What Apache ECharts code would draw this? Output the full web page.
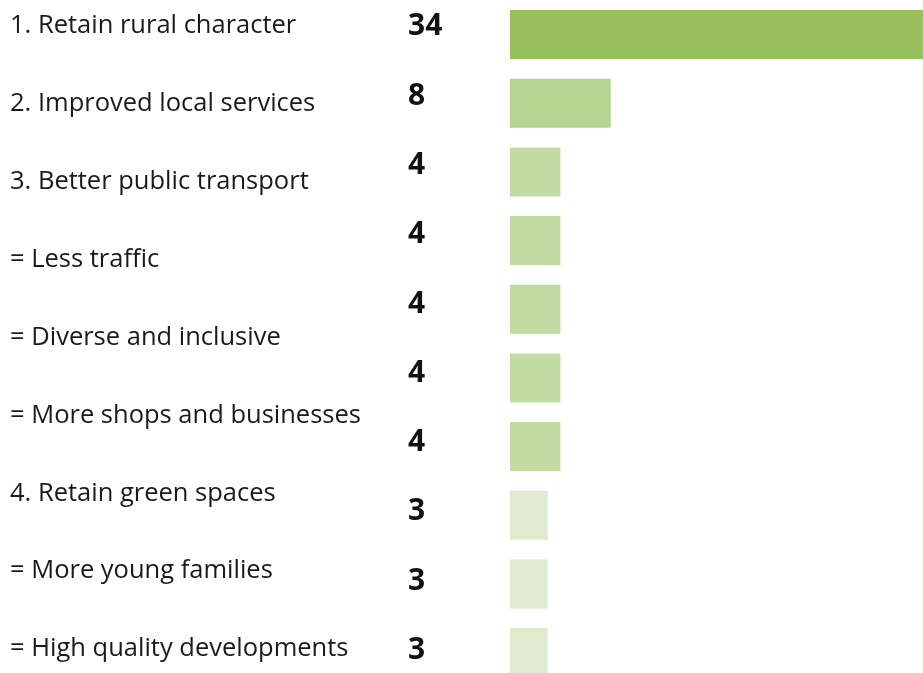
<!DOCTYPE html>
<html><head><meta charset="utf-8">
<script src="https://cdn.jsdelivr.net/npm/echarts@6/dist/echarts.min.js"></script>
<style>html,body{margin:0;padding:0;background:#fff}#c{width:923px;height:673px}</style>
</head><body><div id="c"></div>
<script>
// Text labels (9) as shown on the left
const itemLabels = [
  "1. Retain rural character",
  "2. Improved local services",
  "3. Better public transport",
  "= Less traffic",
  "= Diverse and inclusive",
  "= More shops and businesses",
  "4. Retain green spaces",
  "= More young families",
  "= High quality developments"
];
// Values (10 bars)
const values = [34, 8, 4, 4, 4, 4, 4, 3, 3, 3];
const barCategories = ["b1","b2","b3","b4","b5","b6","b7","b8","b9","b10"];
// Bar colours (style)
const barColors = ["#97c05c","#b4d48f","#c2dba0","#c2dba0","#c2dba0","#c2dba0","#c2dba0","#deebcf","#deebcf","#deebcf"];

const chart = echarts.init(document.getElementById('c'), null, {renderer:'canvas'});
const hidden = {show:false};
chart.setOption({
  animation:false,
  backgroundColor:'#ffffff',
  grid:[
    {left:510, width:428, top:0.2, height:686.7, outerBoundsMode:'none', containLabel:false},
    {left:0, width:400, top:-7.8, height:693, outerBoundsMode:'none', containLabel:false},
    {left:0, width:2, top:-13, height:701, outerBoundsMode:'none', containLabel:false}
  ],
  xAxis:[
    {gridIndex:0, type:'value', min:0, max:34, show:false},
    {gridIndex:1, type:'value', show:false},
    {gridIndex:2, type:'value', show:false}
  ],
  yAxis:[
    {gridIndex:0, type:'category', inverse:true, data:barCategories, show:false},
    {gridIndex:1, type:'category', inverse:true, data:barCategories, position:'right',
      axisLine:hidden, axisTick:hidden, splitLine:hidden,
      axisLabel:{show:true, margin:8, align:'left', interval:0,
        formatter:(v,i)=>String(values[i]),
        fontFamily:'Open Sans', fontWeight:'bold', fontSize:30, color:'#111111'}},
    {gridIndex:2, type:'category', inverse:true, data:itemLabels, position:'right',
      axisLine:hidden, axisTick:hidden, splitLine:hidden,
      axisLabel:{show:true, margin:8, align:'left', interval:0,
        fontFamily:'Open Sans', fontSize:25.5, color:'#1a1a1a'}}
  ],
  series:[{
    type:'bar', xAxisIndex:0, yAxisIndex:0,
    barWidth:49,
    data: values.map((v,i)=>({value:v, itemStyle:{color:barColors[i]}})),
    silent:true
  }]
});
</script></body></html>
